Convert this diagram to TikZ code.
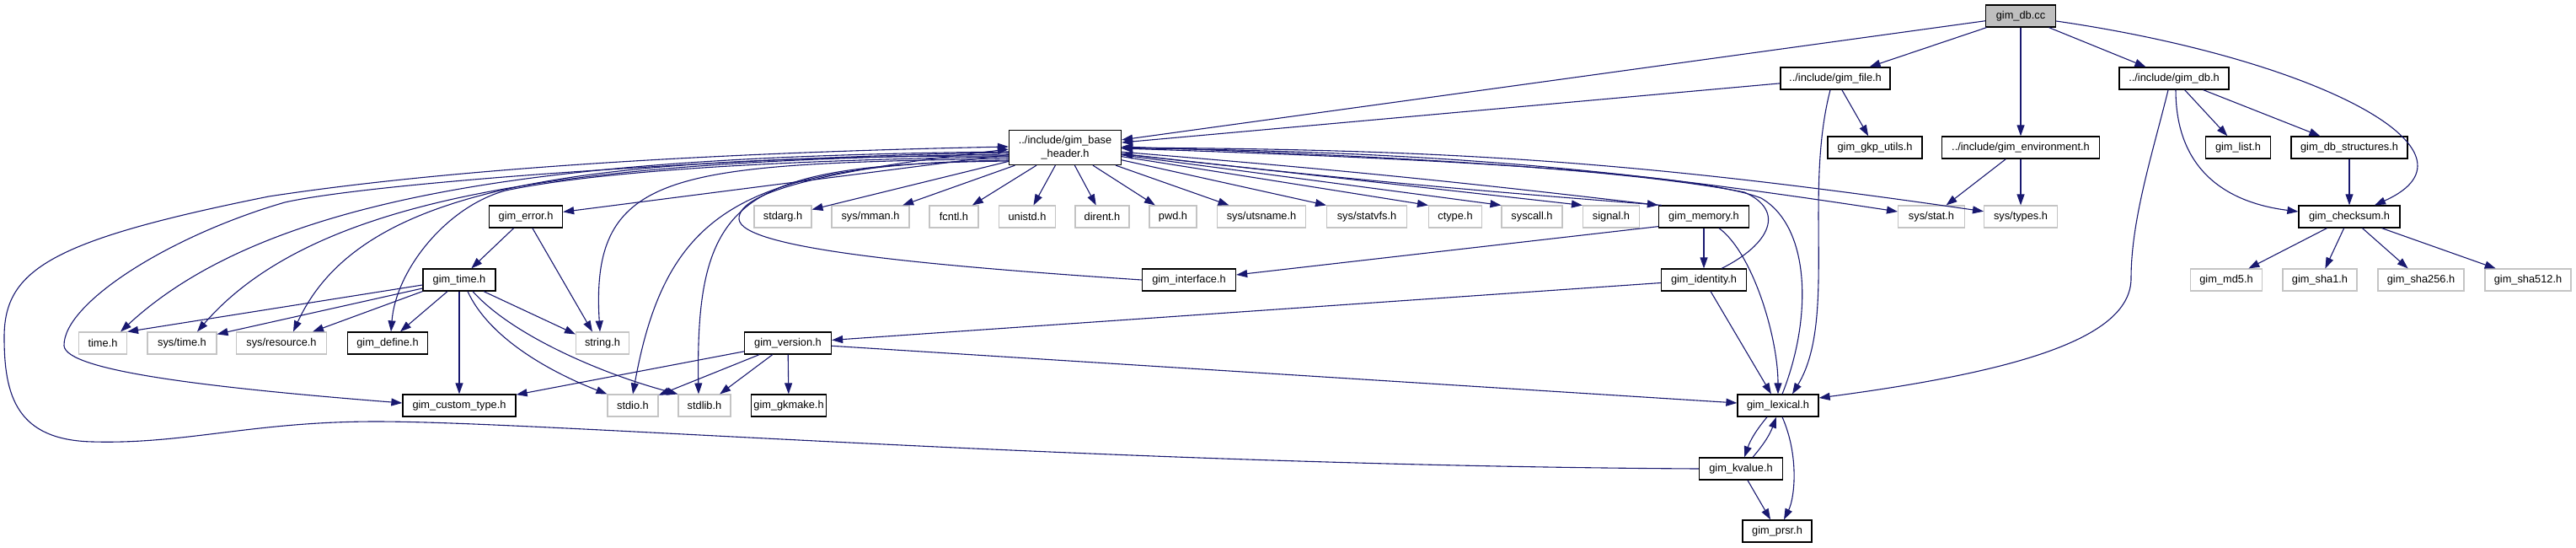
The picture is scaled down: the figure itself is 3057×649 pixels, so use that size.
\documentclass[tikz,border=0pt]{standalone}
\usepackage{fontspec}
\setmainfont{Liberation Sans}
\usepackage{xcolor}
\usetikzlibrary{arrows.meta}

\definecolor{edgeblue}{HTML}{191970}
\definecolor{rootgray}{HTML}{BFBFBF}
\definecolor{sysgray}{HTML}{C4C4C4}

\begin{document}
\begin{tikzpicture}[x=1pt, y=-1pt,
          hdr/.style={draw=black, line width=1.3pt, fill=white, minimum height=26pt, minimum width=#1pt, inner sep=0pt, font=\fontsize{12.8}{16}\selectfont},
          syshdr/.style={hdr=#1, draw=sysgray, line width=1.1pt},
          rootbox/.style={hdr=#1, fill=rootgray},
          inc/.style={-{Triangle[length=13pt, width=9pt]}, draw=edgeblue, line width=1.1pt}
        ]
        \useasboundingbox (0,0) rectangle (3057,649);
        % files
        \node[rootbox=83] (dbcc) at (2398, 19) {gim\_db.cc};
        \node[hdr=130] (file) at (2178, 93) {../include/gim\_file.h};
        \node[hdr=130] (dbh) at (2580, 93) {../include/gim\_db.h};
        \node[hdr=112] (gkp) at (2225, 175) {gim\_gkp\_utils.h};
        \node[hdr=187] (env) at (2398, 175) {../include/gim\_environment.h};
        \node[hdr=77] (list) at (2656, 175) {gim\_list.h};
        \node[hdr=138] (dbstruct) at (2788, 175) {gim\_db\_structures.h};
        \node[hdr=133, minimum height=41pt, align=center] (base) at (1264, 175) {../include/gim\_base\\\_header.h};
        \node[syshdr=68] (stdarg) at (929, 257) {stdarg.h};
        \node[syshdr=92] (mman) at (1033, 257) {sys/mman.h};
        \node[syshdr=58] (fcntl) at (1132, 257) {fcntl.h};
        \node[syshdr=67] (unistd) at (1219, 257) {unistd.h};
        \node[syshdr=64] (dirent) at (1308, 257) {dirent.h};
        \node[syshdr=56] (pwd) at (1392, 257) {pwd.h};
        \node[syshdr=105] (utsname) at (1497, 257) {sys/utsname.h};
        \node[syshdr=95] (statvfs) at (1622, 257) {sys/statvfs.h};
        \node[syshdr=63] (ctype) at (1727, 257) {ctype.h};
        \node[syshdr=72] (syscall) at (1818, 257) {syscall.h};
        \node[syshdr=67] (signal) at (1912, 257) {signal.h};
        \node[hdr=107] (memory) at (2022, 257) {gim\_memory.h};
        \node[syshdr=79] (sysstat) at (2292, 257) {sys/stat.h};
        \node[syshdr=87] (systypes) at (2398, 257) {sys/types.h};
        \node[hdr=120] (checksum) at (2788, 257) {gim\_checksum.h};
        \node[hdr=87] (error) at (624, 257) {gim\_error.h};
        \node[hdr=86] (gtime) at (545, 332) {gim\_time.h};
        \node[hdr=111] (interface) at (1411, 332) {gim\_interface.h};
        \node[hdr=101] (identity) at (2022, 332) {gim\_identity.h};
        \node[syshdr=85] (md5) at (2642, 332) {gim\_md5.h};
        \node[syshdr=88] (sha1) at (2753, 332) {gim\_sha1.h};
        \node[syshdr=102] (sha256) at (2873, 332) {gim\_sha256.h};
        \node[syshdr=102] (sha512) at (3000, 332) {gim\_sha512.h};
        \node[syshdr=57] (timeh) at (122, 407) {time.h};
        \node[syshdr=82] (systime) at (216, 407) {sys/time.h};
        \node[syshdr=107] (resource) at (334, 407) {sys/resource.h};
        \node[hdr=95] (define) at (460, 407) {gim\_define.h};
        \node[syshdr=63] (string) at (715, 407) {string.h};
        \node[hdr=103] (version) at (935, 407) {gim\_version.h};
        \node[hdr=134] (custom) at (545, 481) {gim\_custom\_type.h};
        \node[syshdr=60] (stdio) at (751, 481) {stdio.h};
        \node[syshdr=62] (stdlib) at (836, 481) {stdlib.h};
        \node[hdr=89] (gkmake) at (936, 481) {gim\_gkmake.h};
        \node[hdr=96] (lexical) at (2110, 481) {gim\_lexical.h};
        \node[hdr=99] (kvalue) at (2066, 556) {gim\_kvalue.h};
        \node[hdr=82] (prsr) at (2109, 630) {gim\_prsr.h};
        % includes of gim_db.cc
        \draw[inc] (dbcc) -- (base);
        \draw[inc] (dbcc) -- (file);
        \draw[inc] (dbcc) -- (env);
        \draw[inc] (dbcc) -- (dbh);
        \draw[inc] ([yshift=-6pt]dbcc.east) .. controls (2750,70) and (2960,180) .. ([xshift=30pt]checksum.north);
        \draw[inc] (file) -- (base);
        \draw[inc] (file) -- (gkp);
        \draw[inc] ([xshift=-6pt]file.south) .. controls (2140,230) and (2180,380) .. ([xshift=17pt]lexical.north);
        \draw[inc] (env) -- (sysstat);
        \draw[inc] (env) -- (systypes);
        \draw[inc] (dbh) -- (list);
        \draw[inc] (dbh) -- (dbstruct);
        \draw[inc] ([xshift=2pt]dbh.south) .. controls (2582,200) and (2640,240) .. ([yshift=6pt]checksum.west);
        \draw[inc] ([xshift=-7pt]dbh.south) .. controls (2555,180) and (2529,260) .. (2529,330) .. controls (2529,400) and (2400,440) .. ([yshift=9pt]lexical.east);
        \draw[inc] (dbstruct) -- (checksum);
        \draw[inc] (checksum) -- (md5);
        \draw[inc] (checksum) -- (sha1);
        \draw[inc] (checksum) -- (sha256);
        \draw[inc] (checksum) -- (sha512);
        % gim_base_header.h
        \draw[inc] (base) -- (stdarg);
        \draw[inc] (base) -- (mman);
        \draw[inc] (base) -- (fcntl);
        \draw[inc] (base) -- (unistd);
        \draw[inc] (base) -- (dirent);
        \draw[inc] (base) -- (pwd);
        \draw[inc] (base) -- (utsname);
        \draw[inc] (base) -- (statvfs.north west);
        \draw[inc] (base) -- (ctype.north west);
        \draw[inc] (base) -- (syscall.north west);
        \draw[inc] (base) -- (signal.north west);
        \draw[inc] (base) to[bend left=1] (memory.north west);
        \draw[inc] ([xshift=4pt]memory.north west) to[bend left=1] (base);
        \draw[inc] (base) to[bend left=4] (sysstat);
        \draw[inc] (base) to[bend left=4] (systypes);
        \draw[inc] (base) -- (error);
        \draw[inc] ([yshift=-5pt]base.west) .. controls (700,185) and (330,220) .. ([xshift=21pt]timeh.north);
        \draw[inc] ([yshift=-8pt]base.west) .. controls (700,190) and (380,225) .. ([xshift=18pt]systime.north);
        \draw[inc] ([yshift=-10pt]base.west) .. controls (700,185) and (430,215) .. ([xshift=14pt]resource.north);
        \draw[inc] ([yshift=-11pt]base.west) .. controls (900,190) and (700,205) .. (600,226) .. controls (530,245) and (470,320) .. ([xshift=4pt]define.north);
        \draw[inc] ([yshift=-13pt]base.west) .. controls (800,195) and (700,200) .. ([xshift=-3pt]string.north);
        \draw[inc] ([yshift=-15pt]base.west) .. controls (880,195) and (790,250) .. (stdio.north);
        \draw[inc] ([yshift=-16pt]base.west) .. controls (880,195) and (825,230) .. ([xshift=-7pt]stdlib.north);
        \draw[inc] ([yshift=-6pt]base.west) .. controls (900,185) and (450,215) .. (338,240) .. controls (200,280) and (75,360) .. (76,410) .. controls (78,440) and (250,460) .. ([yshift=3pt]custom.west);
        % back to gim_base_header.h
        \draw[inc] (kvalue.west) .. controls (1300,552) and (650,500) .. (446,500) .. controls (300,500) and (220,527) .. (110,524) .. controls (20,522) and (5,470) .. (5,400) .. controls (5,320) and (60,285) .. (319,233) .. controls (600,190) and (1000,178) .. ([yshift=1pt]base.west);
        \draw[inc] (interface.west) .. controls (1100,315) and (880,295) .. (877,260) .. controls (875,225) and (1000,200) .. ([yshift=-2pt]base.west);
        \draw[inc] ([xshift=-30pt]identity.north east) .. controls (2100,290) and (2120,250) .. (2070,228) .. controls (1900,195) and (1550,182) .. ([yshift=1pt]base.east);
        \draw[inc] ([xshift=5pt]lexical.north) .. controls (2150,380) and (2150,270) .. (2090,235) .. controls (2000,200) and (1600,185) .. ([yshift=-1pt]base.east);
        % gim_memory.h, gim_identity.h
        \draw[inc] ([yshift=2pt]memory.south west) -- ([yshift=6pt]interface.east);
        \draw[inc] (memory) -- (identity);
        \draw[inc] ([xshift=18pt]memory.south) .. controls (2080,300) and (2110,400) .. (lexical.north);
        \draw[inc] (identity) -- (version);
        \draw[inc] (identity) -- (lexical);
        % gim_version.h
        \draw[inc] (version) -- (custom);
        \draw[inc] (version) -- (stdio);
        \draw[inc] (version) -- (stdlib);
        \draw[inc] (version) -- (gkmake);
        \draw[inc] (version) -- (lexical);
        % gim_lexical.h, gim_kvalue.h
        \draw[inc] ([xshift=-13pt]lexical.south) to[bend right=10] ([xshift=4pt]kvalue.north);
        \draw[inc] ([xshift=14pt]kvalue.north) to[bend right=10] ([xshift=-2pt]lexical.south);
        \draw[inc] ([xshift=5pt]lexical.south) .. controls (2135,540) and (2130,590) .. ([xshift=8pt]prsr.north);
        \draw[inc] (kvalue) -- (prsr);
        % gim_error.h, gim_time.h
        \draw[inc] (error) -- (gtime);
        \draw[inc] (error) -- ([xshift=-12pt]string.north);
        \draw[inc] ([yshift=-6pt]gtime.west) -- (timeh.north east);
        \draw[inc] ([yshift=-10pt]gtime.west) -- ([yshift=-3pt]systime.north east);
        \draw[inc] (gtime.south west) -- ([xshift=-17pt]resource.north east);
        \draw[inc] ([xshift=-14pt]gtime.south) -- ([xshift=15pt]define.north);
        \draw[inc] (gtime) -- (custom);
        \draw[inc] ([xshift=29pt]gtime.south) -- ([yshift=-3pt]string.north west);
        \draw[inc] ([xshift=10pt]gtime.south) .. controls (580,400) and (650,440) .. (stdio.north west);
        \draw[inc] ([xshift=16pt]gtime.south) .. controls (610,400) and (720,445) .. (stdlib.north west);
        \end{tikzpicture}
\end{document}
